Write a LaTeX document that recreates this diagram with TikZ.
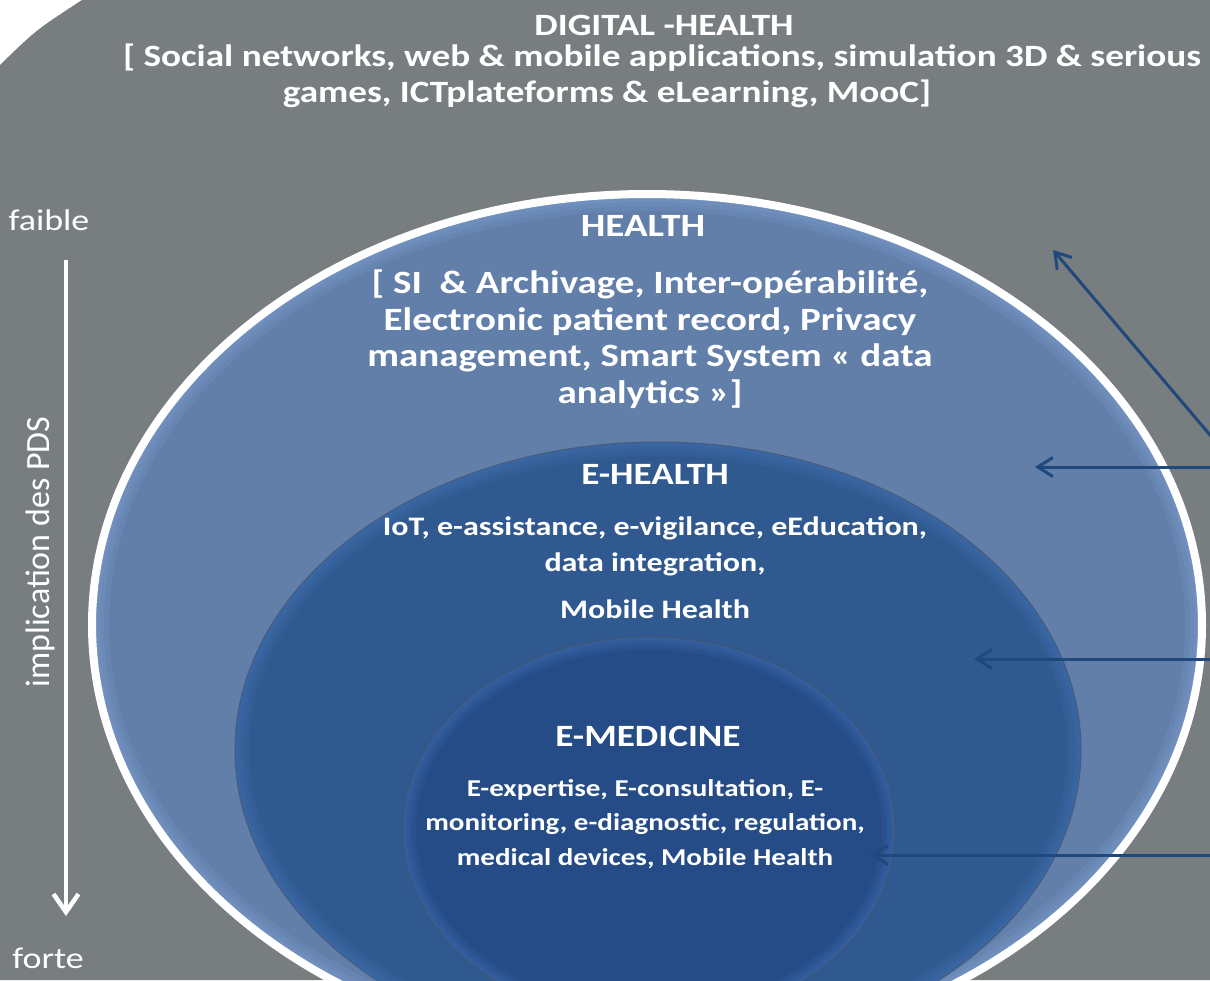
\documentclass[tikz,border=0pt]{standalone}
\usepackage{fontspec}
\setmainfont{Carlito}
\newfontfamily\widefont[FakeStretch=1.2]{Carlito}
\usetikzlibrary{arrows.meta}
\definecolor{slategrey}{RGB}{120,125,128}
\definecolor{healthblue}{RGB}{98,127,170}
\definecolor{healthglow}{RGB}{140,176,228}
\definecolor{ehealthblue}{RGB}{48,89,143}
\definecolor{ehealthglow}{RGB}{74,122,190}
\definecolor{emedblue}{RGB}{37,76,135}
\definecolor{rimgrey}{RGB}{72,84,102}
\definecolor{arrowblue}{RGB}{31,73,125}

\begin{document}
\begin{tikzpicture}[
    x=1pt, y=-1pt,
    head/.style={text=white, inner sep=0pt, font=\widefont\bfseries\fontsize{31}{36}\selectfont},
    outertxt/.style={text=white, inner sep=0pt, font=\widefont\bfseries\fontsize{31}{36}\selectfont},
    healthtxt/.style={text=white, inner sep=0pt, align=center, font=\widefont\bfseries\fontsize{32.5}{36.5}\selectfont},
    ehealthtxt/.style={text=white, inner sep=0pt, align=center, font=\widefont\bfseries\fontsize{26.7}{36}\selectfont},
    emedtxt/.style={text=white, inner sep=0pt, align=center, font=\widefont\bfseries\fontsize{24.2}{34.5}\selectfont},
    side/.style={text=white, inner sep=0pt, font=\widefont\fontsize{30}{36}\selectfont},
    axis/.style={-{Straight Barb[length=18pt, width=25pt]}, white, line width=4.5pt},
    pointer/.style={-{Straight Barb[length=15pt, width=19pt]}, draw=arrowblue, line width=3pt},
    glow/.style={line width=#1, opacity=.13}
]
    \useasboundingbox (0,0) rectangle (1210,980);
    \clip (0,0) rectangle (1210,980);

    % Background
    \fill[white] (0,0) rectangle (1210,980);
    \fill[slategrey] (0,65) .. controls (36,30) .. (82,0) -- (1210,0) -- (1210,980) -- (0,980) -- cycle;

    % HEALTH
    \fill[healthblue] (647,625) ellipse [x radius=555, y radius=431];
    \begin{scope}
        \clip (647,625) ellipse [x radius=555, y radius=431];
        \foreach \w in {34,24,16,10,5}
            \draw[healthglow, glow=\w] (647,625) ellipse [x radius=555, y radius=431];
    \end{scope}
    \draw[white, line width=8] (647,625) ellipse [x radius=555, y radius=431];

    % E-HEALTH
    \fill[ehealthblue] (658,750) ellipse [x radius=423, y radius=308];
    \begin{scope}
        \clip (658,750) ellipse [x radius=423, y radius=308];
        \foreach \w in {28,20,13,7,3}
            \draw[ehealthglow, glow=\w] (658,750) ellipse [x radius=423, y radius=308];
    \end{scope}
    \draw[rimgrey, line width=1.2, opacity=.6] (658,750) ellipse [x radius=423, y radius=308];

    % E-MEDICINE
    \fill[emedblue] (649,830) ellipse [x radius=246, y radius=193];
    \begin{scope}
        \clip (649,830) ellipse [x radius=246, y radius=193];
        \foreach \w in {26,18,12,6,3}
            \draw[ehealthglow, glow=\w] (649,830) ellipse [x radius=246, y radius=193];
    \end{scope}
    \draw[rimgrey, line width=1.2, opacity=.6] (649,830) ellipse [x radius=246, y radius=193];

    % DIGITAL -HEALTH
    \node[head] (digital) at (664,25) {DIGITAL -HEALTH};
    \node[outertxt] (digitalA) at (662,58) {[ Social networks, web \& mobile applications, simulation 3D \& serious};
    \node[outertxt] (digitalB) at (607,94) {games, ICTplateforms \& eLearning, MooC]};

    % HEALTH text
    \node[head, font=\widefont\bfseries\fontsize{32.5}{36}\selectfont] (health) at (643,226) {HEALTH};
    \node[healthtxt] (healthlist) at (650,339) {[ SI\ \ \& Archivage, Inter-opérabilité,\\ Electronic patient record, Privacy\\ management, Smart System « data\\ analytics »]};

    % E-HEALTH text
    \node[head] (ehealth) at (655,474) {E-HEALTH};
    \node[ehealthtxt] (ehealthlist) at (655,546) {IoT, e-assistance, e-vigilance, eEducation,\\ data integration,};
    \node[ehealthtxt] (ehealthmob) at (655,609) {Mobile Health};

    % E-MEDICINE text
    \node[head] (emed) at (648,736) {E-MEDICINE};
    \node[emedtxt] (emedlist) at (645,824) {E-expertise, E-consultation, E-\\ monitoring, e-diagnostic, regulation,\\ medical devices, Mobile Health};

    % Scale on the left
    \node[side] (weak) at (49,220) {faible};
    \node[side] (strong) at (48,958) {forte};
    \node[side, rotate=90, font=\fontsize{34}{36}\selectfont] (involve) at (40,552) {implication des PDS};
    \coordinate (axistop) at (66,260);
    \coordinate (axisbot) at (66,916);
    \draw[axis] (axistop) -- (axisbot);

    % Pointers
    \coordinate (srcA) at (1216,442);
    \coordinate (tipA) at (1053,250);
    \coordinate (srcB) at (1216,467);
    \coordinate (tipB) at (1035,467);
    \coordinate (srcC) at (1216,659);
    \coordinate (tipC) at (974,659);
    \coordinate (srcD) at (1216,855);
    \coordinate (tipD) at (870,855);
    \draw[pointer] (srcA) -- (tipA);
    \draw[pointer] (srcB) -- (tipB);
    \draw[pointer] (srcC) -- (tipC);
    \draw[pointer] (srcD) -- (tipD);
\end{tikzpicture}
\end{document}
